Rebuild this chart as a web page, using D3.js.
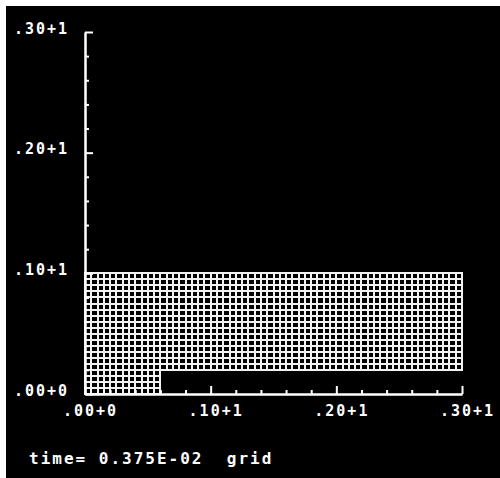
<!DOCTYPE html>
<html>
<head>
<meta charset="utf-8">
<script src="https://cdn.jsdelivr.net/npm/d3@7"></script>
<style>
  html, body { margin: 0; padding: 0; background: #fff; }
  svg { display: block; }
  text { font-family: "DejaVu Sans Mono", "Liberation Mono", monospace; font-weight: bold; fill: #fff; }
</style>
</head>
<body>
<script>
// ---- data ----
const xDomain = [0, 3];
const yDomain = [0, 3];
const majorTicks = [0, 1, 2, 3];
const xTickLabels = [".00+0", ".10+1", ".20+1", ".30+1"];
const yTickLabels = [".00+0", ".10+1", ".20+1", ".30+1"];
const minorTicks = [0.2, 0.4, 0.6, 0.8, 1.2, 1.4, 1.6, 1.8, 2.2, 2.4, 2.6, 2.8];
// mesh blocks: extents and cell counts
const blockX0 = [0, 0];
const blockX1 = [0.6, 3];
const blockY0 = [0, 0.2];
const blockY1 = [0.2, 1];
const blockNx = [12, 60];
const blockNy = [4, 16];
const caption = "time= 0.375E-02  grid";

// ---- layout ----
const W = 500, H = 478;
const svg = d3.select("body").append("svg").attr("width", W).attr("height", H);
svg.append("rect").attr("width", W).attr("height", H).attr("fill", "#fff");
svg.append("rect").attr("x", 6).attr("y", 6).attr("width", W - 6).attr("height", H - 6).attr("fill", "#000");

const x = d3.scaleLinear().domain(xDomain).range([85, 462]);
const y = d3.scaleLinear().domain(yDomain).range([394, 32]);
const px = v => Math.round(x(v));
const py = v => Math.round(y(v));

// mesh
const mesh = svg.append("g").attr("stroke", "#f2f2f2").attr("stroke-width", 2).attr("stroke-linecap", "square");
blockX0.forEach((bx0, i) => {
  const bx1 = blockX1[i], by0 = blockY0[i], by1 = blockY1[i];
  const xs = d3.range(blockNx[i] + 1).map(k => bx0 + (bx1 - bx0) * k / blockNx[i]);
  const ys = d3.range(blockNy[i] + 1).map(k => by0 + (by1 - by0) * k / blockNy[i]);
  mesh.selectAll(null).data(xs).join("line")
    .attr("x1", d => px(d)).attr("x2", d => px(d))
    .attr("y1", py(by0)).attr("y2", py(by1));
  mesh.selectAll(null).data(ys).join("line")
    .attr("x1", px(bx0)).attr("x2", px(bx1))
    .attr("y1", d => py(d)).attr("y2", d => py(d));
});

// axes
function styleAxis(g) {
  g.select(".domain").attr("stroke", "#fff").attr("stroke-width", 2);
  g.selectAll(".tick line").attr("stroke", "#fff").attr("stroke-width", 2);
}
const xMajor = svg.append("g").attr("transform", `translate(0,${y(0)})`)
  .call(d3.axisBottom(x).tickValues(majorTicks).tickSizeInner(-8).tickSizeOuter(0)
    .tickFormat((d, i) => xTickLabels[i]));
styleAxis(xMajor);
xMajor.selectAll(".tick text").attr("y", 22).attr("dy", 0).attr("x", 5)
  .attr("font-size", 15).attr("letter-spacing", 2).attr("text-anchor", "middle").attr("fill", "#fff");

const xMinor = svg.append("g").attr("transform", `translate(0,${y(0)})`)
  .call(d3.axisBottom(x).tickValues(minorTicks).tickSizeInner(-4).tickSizeOuter(0).tickFormat(""));
styleAxis(xMinor);

const yMajor = svg.append("g").attr("transform", `translate(${x(0)},0)`)
  .call(d3.axisLeft(y).tickValues(majorTicks).tickSizeInner(-8).tickSizeOuter(0)
    .tickFormat((d, i) => yTickLabels[i]));
styleAxis(yMajor);
yMajor.selectAll(".tick text").attr("x", -71).attr("y", 1).attr("dy", 0)
  .attr("font-size", 15).attr("letter-spacing", 2).attr("text-anchor", "start").attr("fill", "#fff");

const yMinor = svg.append("g").attr("transform", `translate(${x(0)},0)`)
  .call(d3.axisLeft(y).tickValues(minorTicks).tickSizeInner(-4).tickSizeOuter(0).tickFormat(""));
styleAxis(yMinor);

svg.append("text").attr("x", 29).attr("y", 464)
  .attr("font-size", 16).attr("letter-spacing", 2).attr("xml:space", "preserve")
  .style("white-space", "pre")
  .text(caption);
</script>
</body>
</html>
